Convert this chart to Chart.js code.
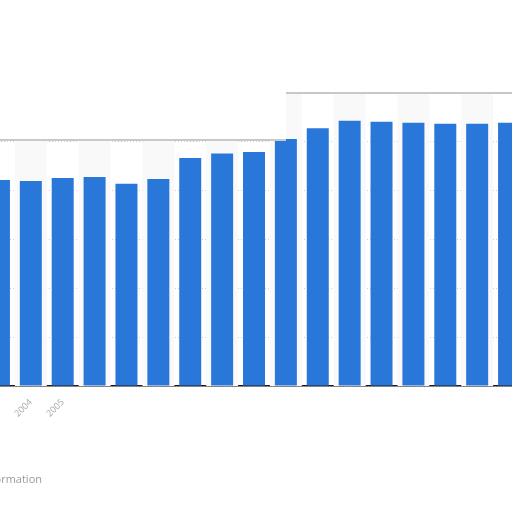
<!DOCTYPE html>
<html>
<head>
<meta charset="utf-8">
<script src="https://cdn.jsdelivr.net/npm/chart.js@4"></script>
<style>
  html, body { margin: 0; padding: 0; width: 512px; height: 512px; overflow: hidden; background: #fff; }
  #wrap { position: absolute; left: -17px; top: 0; width: 542px; height: 512px; }
  #mask { position: absolute; left: 0; top: 0; width: 286px; height: 139px; background: #fff;
    border-bottom: 2px solid #c9c9c9; }
  #note { position: absolute; left: -90px; top: 471px; width: 132px; text-align: right;
    font: 11px 'Open Sans', sans-serif; color: #9a9a9a; }
</style>
</head>
<body>
<div id="wrap"><canvas id="myChart"></canvas></div>
<div id="mask"></div>
<div id="note">Additional Information</div>
<script>
const years = ['2003', '2004', '2005', '2006', '2007', '2008', '2009', '2010', '2011',
  '2012', '2013', '2014', '2015', '2016', '2017', '2018', '2019']
const values = [42.2, 42.0, 42.6, 42.8, 41.4, 42.4, 46.7, 47.6, 47.9,
  50.6, 52.8, 54.3, 54.1, 53.9, 53.7, 53.7, 53.9]
const shownLabels = ['2004', '2005']

// light bands behind every other year, like the original
const bandPlugin = {
  id: 'bands',
  beforeDatasetsDraw (chart) {
    const { ctx, chartArea, scales } = chart
    const step = scales.x.getPixelForValue(1) - scales.x.getPixelForValue(0)
    ctx.save()
    ctx.fillStyle = '#f9f9f9'
    years.forEach((y, i) => {
      if (i % 2 === 1) {
        const cx = scales.x.getPixelForValue(i)
        ctx.fillRect(cx - step / 2, chartArea.top, step, chartArea.bottom - chartArea.top)
      }
    })
    ctx.strokeStyle = '#c8c8c8'
    ctx.lineWidth = 2
    ctx.beginPath()
    ctx.moveTo(chartArea.left, chartArea.top)
    ctx.lineTo(chartArea.right, chartArea.top)
    ctx.stroke()
    ctx.restore()
  }
}

const ctx = document.getElementById('myChart').getContext('2d')
new Chart(ctx, {
  type: 'bar',
  data: {
    labels: years,
    datasets: [{
      data: values,
      backgroundColor: '#2a77da',
      categoryPercentage: 1,
      barPercentage: 0.69
    }]
  },
  options: {
    responsive: true,
    maintainAspectRatio: false,
    animation: false,
    layout: { padding: { top: 93, left: 0, right: 0, bottom: 0 } },
    plugins: { legend: { display: false }, tooltip: { enabled: false } },
    scales: {
      x: {
        grid: { display: false },
        border: { display: true, color: '#1a1a1a', width: 1.5 },
        ticks: {
          color: '#a8a8a8',
          font: { family: 'Open Sans', size: 9 },
          minRotation: 45,
          maxRotation: 45,
          autoSkip: false,
          callback: (v, i) => shownLabels.includes(years[i]) ? years[i] : ''
        },
        afterFit: (axis) => { axis.height = 126 }
      },
      y: {
        min: 0,
        max: 60,
        ticks: { display: false, stepSize: 10 },
        border: { display: false, dash: [1, 2] },
        grid: { color: '#d0d0d0', drawTicks: false },
        afterFit: (axis) => { axis.width = 0 }
      }
    }
  },
  plugins: [bandPlugin]
})
</script>
</body>
</html>
